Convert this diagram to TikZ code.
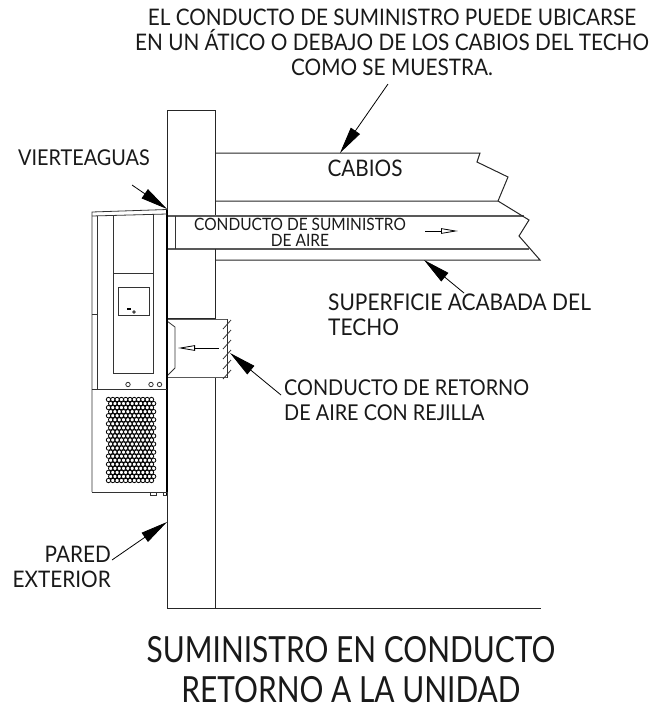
\documentclass[tikz,border=0pt]{standalone}
\usepackage{fontspec}
\setmainfont[FakeStretch=.91]{Lato}
\newfontfamily\titlefont[FakeStretch=.83]{Lato}
\usetikzlibrary{arrows.meta}

\begin{document}
\begin{tikzpicture}[x=1pt,y=-1pt]
\tikzstyle{every node}=[inner sep=0pt,text=black!90]
\tikzstyle{label}=[font=\fontsize{22.8}{25}\selectfont,align=center]
\tikzstyle{smalllabel}=[font=\fontsize{21.8}{25}\selectfont,align=left]
\tikzstyle{lefttext}=[font=\fontsize{23}{25}\selectfont,align=left,anchor=west]
\tikzstyle{ducttext}=[font=\fontsize{17}{16}\selectfont,align=center]
\tikzstyle{titletext}=[font=\titlefont\fontsize{36}{40}\selectfont,align=center]
\tikzstyle{wall}=[line width=1pt,black!85]
\tikzstyle{thin}=[line width=.8pt,black!80]
\tikzstyle{duct}=[line width=1.5pt,black!65]
\tikzstyle{leader}=[line width=.8pt,-{Triangle[length=27pt,width=11pt]},shorten >=0pt]
\tikzstyle{flow}=[line width=.8pt,-{Stealth[open,length=17pt,width=5.5pt,inset=0pt]}]
\useasboundingbox (0,0) rectangle (665,713);

\draw[wall] (215,110) -- (167,110) -- (167,215);
\draw[wall] (215,110) -- (215,215) -- (167,215);
\draw[wall] (215,153) -- (480,153) -- (477,162) -- (508,177) -- (498,201) -- (215,201);
\draw[duct] (167,216) -- (524,216);
\draw[duct] (167,249) -- (529,249);
\draw[wall] (498,201) -- (529,220) -- (519,236) -- (540,260) -- (215,260);
\draw[thin] (175,216) -- (175,249);
\draw[wall] (215,249) -- (215,318) -- (167,318);
\draw[duct] (167,319.5) -- (227,319.5);
\draw[duct] (167,377.5) -- (227,377.5);
\draw[thin] (227,319) -- (227,378);
\draw[thin] (167,321) -- (175,327) -- (175,368) -- (167,376);
\foreach \y in {320,330,...,370} \draw[thin] (223,\y+9) -- (231,\y);
\draw[wall] (215,378) -- (215,608);
\draw[wall] (167,608) -- (541,608);
\draw[line width=1.5pt] (167,210) -- (167,495);
\draw[wall] (167,495) -- (167,608);

\draw[thin] (92,492) -- (92,212) -- (167,209.5);
\draw[thin] (92,216) -- (167,214);
\draw[thin] (97,216) -- (97,389);
\draw[thin] (92,314) -- (97,314);
\draw[thin] (113.5,215) -- (113.5,373) -- (153.5,373) -- (153.5,215);
\draw[thin] (113.5,273) -- (153.5,273);
\draw[thin] (118.5,287) rectangle (149,315);
\draw[line width=1.2pt] (127,309) -- (131,309);
\draw[thin] (134,312) circle (1.3);
\foreach \x in {128,151,159.5} \draw[thin] (\x,384.5) circle (2.2);
\draw[thin] (92,389) -- (167,389);
\draw[thin] (92,492) -- (167,492);
\draw[thin] (150.5,492) rectangle (156,495.5);
\draw[thin] (163.5,492) rectangle (167,495.5);
\foreach \r in {0,...,20} {
  \pgfmathsetmacro{\rowshift}{mod(\r,2)*2.15}
  \foreach \c in {0,...,10} \draw[line width=.8pt] (108.5+\c*4.3+\rowshift,399.5+\r*4.05) circle (2.2);
}

\node[label] (top) at (392,42) {EL CONDUCTO DE SUMINISTRO PUEDE UBICARSE\\EN UN ÁTICO O DEBAJO DE LOS CABIOS DEL TECHO\\COMO SE MUESTRA.};
\node[label] (cabios) at (365,168) {CABIOS};
\node[ducttext] (suministro) at (300,232) {CONDUCTO DE SUMINISTRO\\DE AIRE};
\node[smalllabel,anchor=east] (vierte) at (150,158) {VIERTEAGUAS};
\node[lefttext] (superficie) at (328,315) {SUPERFICIE ACABADA DEL\\TECHO};
\node[smalllabel,anchor=west] (retorno) at (284,400) {CONDUCTO DE RETORNO\\DE AIRE CON REJILLA};
\node[label,anchor=east,align=right] (pared) at (111,567) {PARED\\EXTERIOR};
\node[titletext] (title) at (351,670) {SUMINISTRO EN CONDUCTO\\RETORNO A LA UNIDAD};

\coordinate (cabiostip) at (340,153);
\coordinate (cabiosend) at (388,84);
\coordinate (vierteend) at (132,185);
\coordinate (viertetip) at (167,209);
\coordinate (superend) at (464,293);
\coordinate (supertip) at (424,260);
\coordinate (retornoend) at (281,395);
\coordinate (retornotip) at (230,353);
\coordinate (paredend) at (112,560);
\coordinate (paredtip) at (167,522);
\draw[leader] (cabiosend) -- (cabiostip);
\draw[leader] (vierteend) -- (viertetip);
\draw[leader] (superend) -- (supertip);
\draw[leader] (retornoend) -- (retornotip);
\draw[leader] (paredend) -- (paredtip);

\coordinate (flowastart) at (425,231);
\coordinate (flowaend) at (458,231);
\coordinate (flowbstart) at (219,348);
\coordinate (flowbend) at (178,348);
\draw[flow] (flowastart) -- (flowaend);
\draw[flow] (flowbstart) -- (flowbend);
\end{tikzpicture}
\end{document}
